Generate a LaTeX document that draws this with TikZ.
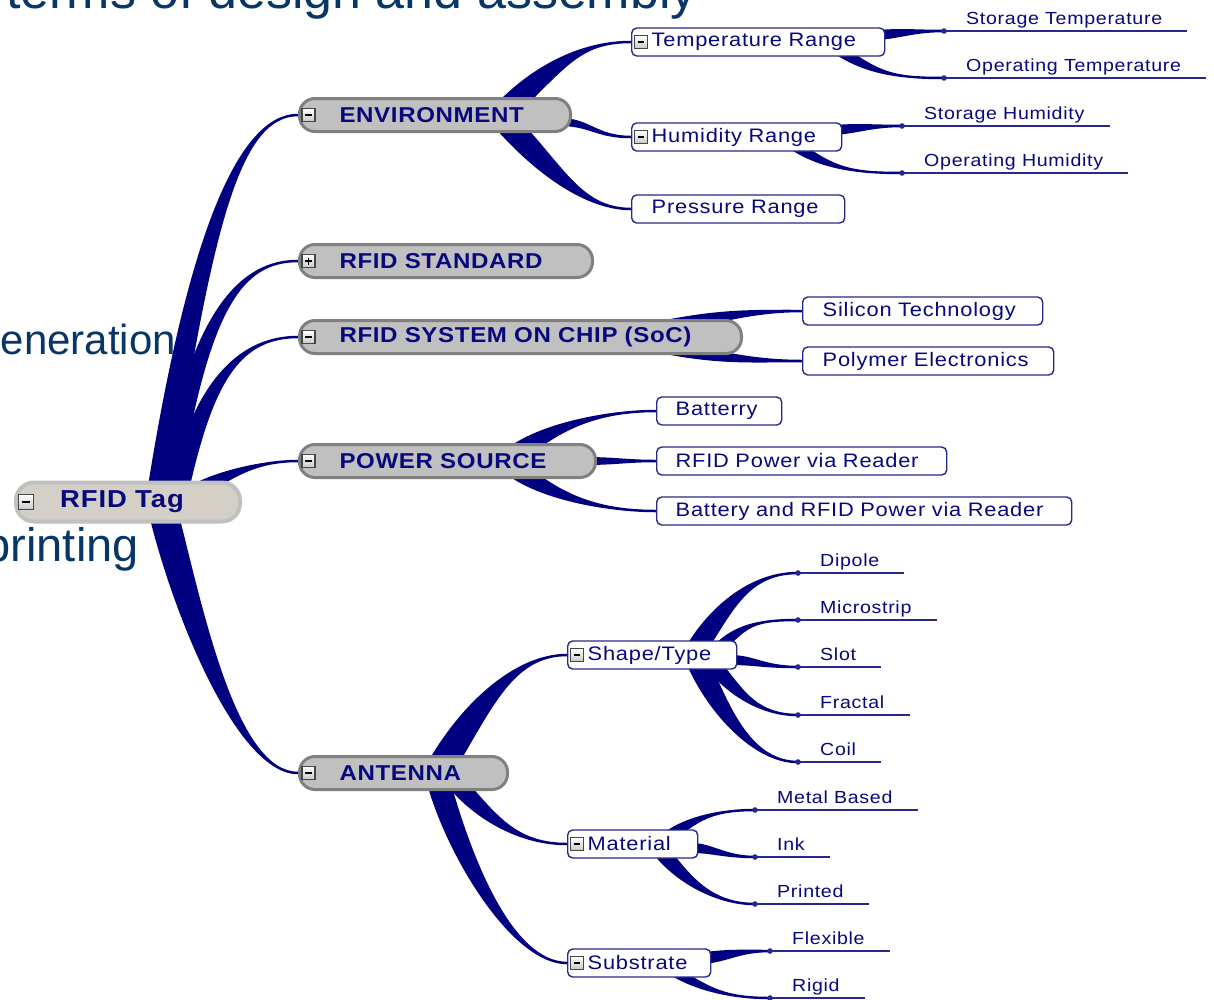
\documentclass[tikz,border=0pt]{standalone}
\usepackage{fontspec}
\setmainfont{Liberation Sans}
\newfontfamily\mmfont[FakeStretch=1.12,LetterSpace=4]{Liberation Sans}
\newfontfamily\topicfont[FakeStretch=1.12,LetterSpace=3]{Liberation Sans}
\usetikzlibrary{calc}
\pgfdeclarelayer{slide}
\pgfdeclarelayer{links}
\pgfsetlayers{slide,links,main}

\definecolor{navy}{RGB}{0,0,128}
\definecolor{mmtext}{RGB}{8,8,125}
\definecolor{subedge}{RGB}{40,40,140}
\definecolor{slidetext}{RGB}{8,54,102}
\definecolor{topicfill}{RGB}{192,192,192}
\definecolor{topicedge}{RGB}{128,128,128}
\definecolor{rootfill}{RGB}{212,208,200}
\definecolor{rootedge}{RGB}{192,192,192}
\definecolor{boxedge}{RGB}{70,70,70}
\definecolor{boxfill}{RGB}{200,200,200}

\tikzset{
  x=1pt, y=-1pt,
  w/.style={minimum width=#1, text width=#1},
  rootpill/.style={draw=rootedge, line width=4pt, fill=rootfill, rounded corners=18pt,
    minimum height=39pt, inner xsep=0pt, inner ysep=0pt, align=left, anchor=west,
    text=mmtext, font=\mmfont\bfseries\fontsize{24.5}{28}\selectfont},
  topic/.style={draw=topicedge, line width=3pt, fill=topicfill, rounded corners=15.5pt,
    minimum height=33pt, inner xsep=0pt, inner ysep=0pt, align=left, anchor=west,
    text=mmtext, font=\topicfont\bfseries\fontsize{21.5}{26}\selectfont},
  sub/.style={draw=subedge, line width=1.4pt, fill=white, rounded corners=5pt,
    minimum height=28pt, inner xsep=0pt, inner ysep=0pt, align=left, anchor=west,
    text=mmtext, font=\mmfont\fontsize{19.5}{23}\selectfont},
  leaftext/.style={inner sep=0pt, anchor=base west, text=mmtext,
    font=\mmfont\fontsize{17.5}{21}\selectfont},
  leafline/.style={draw=subedge, line width=1.3pt},
  mmline/.style={fill=navy},
  slide/.style={inner sep=0pt, text=slidetext, anchor=base east},
  cbox/.pic={
    \draw[draw=boxedge, line width=1.1pt, top color=white, bottom color=boxfill]
      (-6.5,-6.5) rectangle (6.5,6.5);
    \draw[line width=1.6pt] (-3.5,0) -- (3.5,0);},
  pbox/.pic={
    \draw[draw=boxedge, line width=1.1pt, top color=white, bottom color=boxfill]
      (-6.5,-6.5) rectangle (6.5,6.5);
    \draw[line width=1.6pt] (-3.5,0) -- (3.5,0) (0,-3.5) -- (0,3.5);},
}

% tapered branch: parent anchor, start offset, base half-width vector,
% start tangent, end point, end handle length
\newcommand\branch[6]{%
  \coordinate (bS) at ($(#1)+(#2)$);
  \coordinate (bE) at (#5);
  \fill[mmline] ($(bS)+(#3)$) .. controls ($(bS)+(#3)+(#4)$) and ($(bE)+(-#6,1.25)$)
    .. ($(bE)+(0,1.25)$) -- ($(bE)-(0,1.25)$) .. controls ($(bE)-(#6,1.25)$)
    and ($(bS)-(#3)+(#4)$) .. ($(bS)-(#3)$) -- cycle;}

% leaf: dot, label and underline
\newcommand\leaf[3]{%
  \coordinate (#1) at (#2);
  \fill[subedge] (#1) circle (2.8);
  \node[leaftext] (#1t) at ($(#1)+(22,-7)$) {#3};
  \draw[leafline] (#1) -- ($(#1 -| #1t.east)+(25,0)$);}

\begin{document}
\begin{tikzpicture}
\useasboundingbox (0,0) rectangle (1214,999);
\clip (0,0) rectangle (1214,999);

% slide text behind the map
\begin{pgfonlayer}{slide}
  \node[slide, font=\fontsize{52}{60}\selectfont] (title) at (697,8) {terms of design and assembly};
  \node[slide, font=\fontsize{42}{50}\selectfont] (gen) at (176,354) {eneration};
  \node[slide, font=\fontsize{47}{56}\selectfont] (prn) at (139,561) {printing};
\end{pgfonlayer}

% central topic
\node[rootpill, w=224pt] (root) at (14,502) {\hspace*{44pt}RFID Tag};
\pic[scale=1.15] at ($(root.west)+(12,0)$) {cbox};

% main topics
\node[topic, w=271pt] (env) at (298,115) {\hspace*{40pt}ENVIRONMENT};
\node[topic, w=293pt] (std) at (298,261) {\hspace*{40pt}RFID STANDARD};
\node[topic, w=442pt] (soc) at (298,337) {\hspace*{40pt}RFID SYSTEM ON CHIP (SoC)};
\node[topic, w=296pt] (pwr) at (298,461) {\hspace*{40pt}POWER SOURCE};
\node[topic, w=208pt] (ant) at (298,773) {\hspace*{40pt}ANTENNA};
\foreach \t in {env,soc,pwr,ant} \pic at ($(\t.west)+(10.5,0)$) {cbox};
\pic at ($(std.west)+(10.5,0)$) {pbox};

% subtopics
\node[sub, w=253pt] (temp) at (631,42) {\hspace*{20pt}Temperature Range};
\node[sub, w=210pt] (hum) at (631,137) {\hspace*{20pt}Humidity Range};
\node[sub, w=213pt] (pres) at (631,209) {\hspace*{20pt}Pressure Range};
\node[sub, w=240pt] (si) at (802,311) {\hspace*{20pt}Silicon Technology};
\node[sub, w=251pt] (poly) at (802,361) {\hspace*{20pt}Polymer Electronics};
\node[sub, w=125pt] (bat) at (656,411) {\hspace*{19pt}Batterry};
\node[sub, w=290pt] (rpw) at (656,461) {\hspace*{19pt}RFID Power via Reader};
\node[sub, w=415pt] (both) at (656,511) {\hspace*{19pt}Battery and RFID Power via Reader};
\node[sub, w=169pt] (shape) at (567,655) {\hspace*{20pt}Shape/Type};
\node[sub, w=130pt] (mat) at (567,844) {\hspace*{20pt}Material};
\node[sub, w=143pt] (subs) at (567,963) {\hspace*{20pt}Substrate};
\foreach \t in {temp,hum,shape,mat,subs} \pic[scale=0.95] at ($(\t.west)+(10,0)$) {cbox};

% leaves
\leaf{stt}{944,31}{Storage Temperature}
\leaf{opt}{944,78}{Operating Temperature}
\leaf{sth}{902,126}{Storage Humidity}
\leaf{oph}{902,173}{Operating Humidity}
\leaf{dip}{798,573}{Dipole}
\leaf{mic}{798,620}{Microstrip}
\leaf{slo}{798,667}{Slot}
\leaf{fra}{798,715}{Fractal}
\leaf{coi}{798,762}{Coil}
\leaf{met}{755,810}{Metal Based}
\leaf{ink}{755,857}{Ink}
\leaf{pri}{755,904}{Printed}
\leaf{fle}{770,951}{Flexible}
\leaf{rig}{770,998}{Rigid}

% branches
\begin{pgfonlayer}{links}
  \branch{root.west}{146,-16}{12,0}{40,-250}{env.west}{60}
  \branch{root.west}{156,-16}{10,0}{30,-180}{std.west}{55}
  \branch{root.west}{166,-16}{10,0}{25,-110}{soc.west}{55}
  \branch{root.west}{191,-16}{15,0}{25,-15}{pwr.west}{33}
  \branch{root.west}{151,17}{-15,0}{25,100}{ant.west}{60}

  \branch{env.west}{217,-14}{16,0}{40,-40}{temp.west}{45}
  \branch{env.west}{262,7}{0,4}{30,0}{hum.west}{35}
  \branch{env.west}{214,14}{-16,0}{40,45}{pres.west}{45}

  \branch{soc.west}{362,-9}{0,7}{60,-12}{si.west}{50}
  \branch{soc.west}{362,9}{0,7}{60,12}{poly.west}{50}

  \branch{pwr.west}{227,-14}{16,0}{35,-25}{bat.west}{45}
  \branch{pwr.west}{287,0}{0,4}{30,0}{rpw.west}{30}
  \branch{pwr.west}{227,15}{-16,0}{35,25}{both.west}{45}

  \branch{ant.west}{147,-13}{16,0}{35,-60}{shape.west}{50}
  \branch{ant.west}{162,14}{-12,0}{30,35}{mat.west}{45}
  \branch{ant.west}{142,14}{-12,0}{20,70}{subs.west}{55}

  \branch{temp.west}{247,-7}{0,5}{25,-2}{stt}{30}
  \branch{temp.west}{214,12}{-10,0}{30,20}{opt}{45}
  \branch{hum.west}{204,-7}{0,5}{25,-2}{sth}{30}
  \branch{hum.west}{169,12}{-10,0}{30,20}{oph}{45}

  \branch{shape.west}{133,-12}{12,0}{25,-40}{dip}{45}
  \branch{shape.west}{155,-10}{8,0}{20,-20}{mic}{40}
  \branch{shape.west}{163,5}{0,5}{25,0}{slo}{35}
  \branch{shape.west}{148,12}{-10,0}{20,25}{fra}{40}
  \branch{shape.west}{133,12}{-12,0}{20,45}{coi}{45}

  \branch{mat.west}{108,-12}{10,0}{20,-15}{met}{35}
  \branch{mat.west}{125,4}{0,5}{20,0}{ink}{30}
  \branch{mat.west}{98,12}{-10,0}{20,25}{pri}{40}

  \branch{subs.west}{138,-5}{0,6}{25,-3}{fle}{30}
  \branch{subs.west}{113,12}{-10,0}{25,15}{rig}{40}
\end{pgfonlayer}
\end{tikzpicture}
\end{document}
